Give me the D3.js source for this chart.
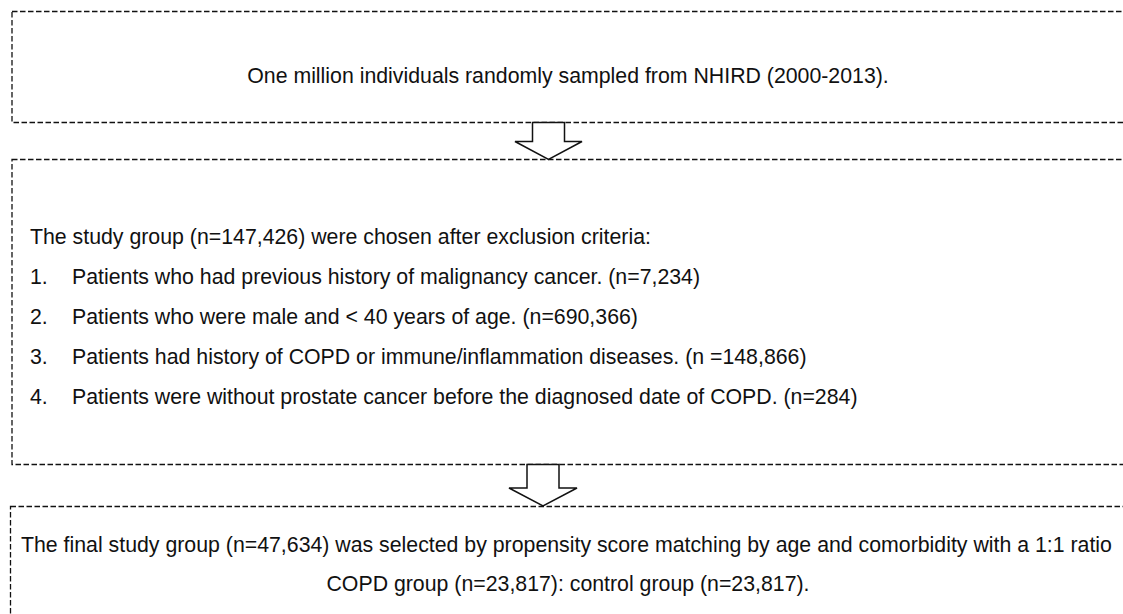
<!DOCTYPE html>
<html><head><meta charset="utf-8">
<script src="https://cdn.jsdelivr.net/npm/d3@7"></script>
<style>html,body{margin:0;padding:0;background:#fff;}svg{display:block;}</style>
</head><body>
<svg id="c" width="1123" height="614"></svg>
<script>
const box1Lines = ["One million individuals randomly sampled from NHIRD (2000-2013)."];
const box2Intro = ["The study group (n=147,426) were chosen after exclusion criteria:"];
const exclusionNumbers = ["1.", "2.", "3.", "4."];
const exclusionCriteria = [
  "Patients who had previous history of malignancy cancer. (n=7,234)",
  "Patients who were male and < 40 years of age. (n=690,366)",
  "Patients had history of COPD or immune/inflammation diseases. (n =148,866)",
  "Patients were without prostate cancer before the diagnosed date of COPD. (n=284)"
];
const box3Lines = [
  "The final study group (n=47,634) was selected by propensity score matching by age and comorbidity with a 1:1 ratio",
  "COPD group (n=23,817): control group (n=23,817)."
];

const svg = d3.select("#c");
const font = "'Liberation Sans', Arial, sans-serif";
const dash = "5.5,2.5";

const boxes = [
  {x: 12, y0: 11.5, y1: 122.5},
  {x: 12, y0: 159.5, y1: 464.5},
  {x: 10.5, y0: 506.5, y1: 640}
];
svg.selectAll("rect.box").data(boxes).join("rect")
  .attr("class","box")
  .attr("x", d => d.x).attr("y", d => d.y0)
  .attr("width", 1200).attr("height", d => d.y1 - d.y0)
  .attr("fill","none").attr("stroke","#111").attr("stroke-width",1.3)
  .attr("stroke-dasharray", dash);

const arrows = [
  {cx: 548.5, top: 122.5, base: 141.5, tip: 159.5, sw: 16, hw: 33.5},
  {cx: 543, top: 464.5, base: 488, tip: 506, sw: 16, hw: 34}
];
svg.selectAll("path.arrow").data(arrows).join("path")
  .attr("class","arrow")
  .attr("d", a => {
    const p = d3.path();
    p.moveTo(a.cx - a.sw, a.top);
    p.lineTo(a.cx + a.sw, a.top);
    p.lineTo(a.cx + a.sw, a.base);
    p.lineTo(a.cx + a.hw, a.base);
    p.lineTo(a.cx, a.tip);
    p.lineTo(a.cx - a.hw, a.base);
    p.lineTo(a.cx - a.sw, a.base);
    p.closePath();
    return p.toString();
  })
  .attr("fill","#fff").attr("stroke","#111").attr("stroke-width",1.5);

const fs = 21.3;
function txt(s, x, y, anchor) {
  svg.append("text").attr("x", x).attr("y", y)
    .attr("text-anchor", anchor || "start")
    .attr("font-family", font).attr("font-size", fs)
    .attr("fill","#111").text(s);
}
txt(box1Lines[0], 568, 82.5, "middle");
txt(box2Intro[0], 30, 244);
const ly = d3.scalePoint().domain(exclusionNumbers).range([284, 404]);
exclusionNumbers.forEach((n, i) => {
  txt(n, 30, ly(n));
  txt(exclusionCriteria[i], 72, ly(n));
});
txt(box3Lines[0], 21, 552);
txt(box3Lines[1], 568, 591, "middle");
</script>
</body></html>
